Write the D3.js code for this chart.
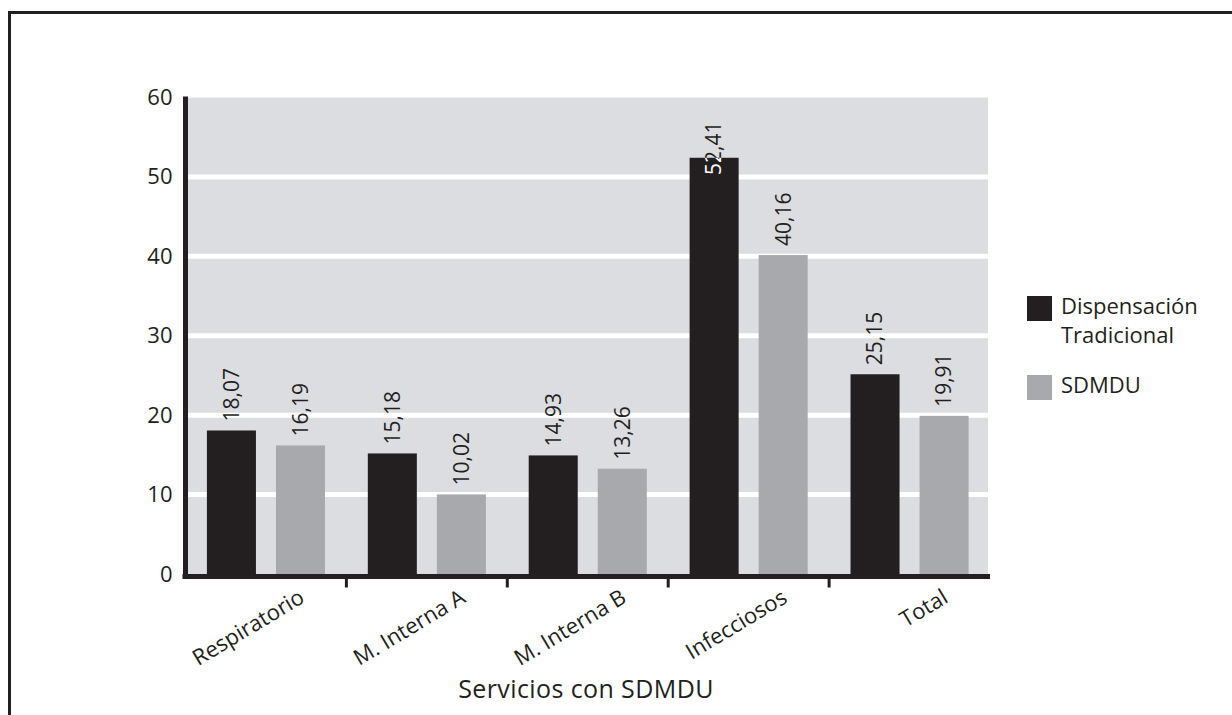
<!DOCTYPE html>
<html>
<head>
<meta charset="utf-8">
<script src="https://cdn.jsdelivr.net/npm/d3@7"></script>
<style>
  html, body { margin: 0; padding: 0; background: #fff; }
  svg { display: block; }
  text { font-family: "Open Sans", Lato, sans-serif; fill: #231f20; font-weight: 400; }
</style>
</head>
<body>
<svg id="chart" width="1232" height="715"></svg>
<script>
// Servicios hospitalarios y series comparadas
const categories = ["Respiratorio", "M. Interna A", "M. Interna B", "Infecciosos", "Total"];
const seriesNames = ["Dispensación Tradicional", "SDMDU"];
const tradicional = [18.07, 15.18, 14.93, 52.41, 25.15];
const sdmdu = [16.19, 10.02, 13.26, 40.16, 19.91];
const yTicks = [0, 10, 20, 30, 40, 50, 60];
const xTitle = "Servicios con SDMDU";

const colors = { "Dispensación Tradicional": "#231f20", "SDMDU": "#a7a9ac" };
const ink = "#231f20";
const fontFamily = "'Open Sans', Lato, sans-serif";
const textSize = 22;
const valueSize = 21;

const svg = d3.select("#chart");
const W = 1232, H = 715;

// Marco exterior (abierto por la derecha y por abajo)
svg.append("path")
  .attr("d", `M${W + 5},12.5 H9.5 V${H + 5}`)
  .attr("fill", "none").attr("stroke", ink).attr("stroke-width", 3);

const plot = { left: 185.5, right: 988, top: 97.5, bottom: 574 };

const x0 = d3.scaleBand().domain(categories).range([plot.left, plot.right + 2]).paddingInner(0).paddingOuter(0);
const x1 = d3.scaleBand().domain(seriesNames).range([0, x0.bandwidth()]).paddingInner(0.29).paddingOuter(0.31);
const y = d3.scaleLinear().domain([0, 60]).range([plot.bottom, plot.top]);

const rows = categories.map((c, i) => ({
  cat: c,
  vals: [
    { key: seriesNames[0], value: tradicional[i] },
    { key: seriesNames[1], value: sdmdu[i] }
  ]
}));

// Fondo del área de trazado
svg.append("rect")
  .attr("x", plot.left + 2).attr("y", y(60))
  .attr("width", plot.right - plot.left - 2).attr("height", y(0) - y(60))
  .attr("fill", "#dcdde0");

// Líneas de rejilla blancas
svg.append("g").selectAll("line")
  .data(yTicks.filter(t => t > 0 && t < 60))
  .join("line")
  .attr("x1", plot.left + 2).attr("x2", plot.right)
  .attr("y1", d => y(d)).attr("y2", d => y(d))
  .attr("stroke", "#fff").attr("stroke-width", 5);

// Barras
const defs = svg.append("defs");
const groups = svg.append("g").selectAll("g")
  .data(rows).join("g")
  .attr("transform", d => `translate(${x0(d.cat)},0)`);

groups.selectAll("rect")
  .data(d => d.vals)
  .join("rect")
  .attr("x", d => x1(d.key))
  .attr("y", d => y(d.value))
  .attr("width", x1.bandwidth())
  .attr("height", d => y(0) - y(d.value))
  .attr("fill", d => colors[d.key]);

// Etiquetas de valor, verticales sobre cada barra
const fmt = v => v.toFixed(2).replace(".", ",");
const labelLayer = svg.append("g");
rows.forEach((row, ci) => {
  row.vals.forEach((d, si) => {
    const cx = x0(row.cat) + x1(d.key) + x1.bandwidth() / 2;
    const t = labelLayer.append("text")
      .attr("font-size", valueSize)
      .attr("text-anchor", "start")
      .attr("dy", "0.35em")
      .text(fmt(d.value));
    const len = t.node().getComputedTextLength();
    let start = y(d.value) - 9;
    if (start - len < plot.top + 20) start = plot.top + 24 + len;
    t.attr("transform", `translate(${cx},${start}) rotate(-90)`);
    if (start > y(d.value)) {
      // parte de la etiqueta que cae dentro de la barra, en blanco
      const id = `clip-${ci}-${si}`;
      defs.append("clipPath").attr("id", id)
        .append("rect")
        .attr("x", x0(row.cat) + x1(d.key)).attr("y", y(d.value))
        .attr("width", x1.bandwidth()).attr("height", y(0) - y(d.value));
      labelLayer.append("g").attr("clip-path", `url(#${id})`)
        .append("text")
        .attr("font-size", valueSize)
        .attr("text-anchor", "start")
        .attr("dy", "0.35em")
        .style("fill", "#fff")
        .attr("transform", `translate(${cx},${start}) rotate(-90)`)
        .text(fmt(d.value));
    }
  });
});

// Eje Y
const yAxis = svg.append("g")
  .attr("transform", `translate(${plot.left},0)`)
  .call(d3.axisLeft(y).tickValues(yTicks).tickSize(0).tickPadding(13).tickFormat(d3.format("d")));
yAxis.select(".domain").attr("stroke", ink).attr("stroke-width", 5)
  .attr("d", `M0,${y(60) - 1}V${y(0) + 3}`);
yAxis.selectAll("text").attr("font-size", textSize).style("fill", ink)
  .style("font-family", fontFamily);

// Eje X con marcas entre categorías
const xAxisY = plot.bottom + 0.5;
svg.append("line")
  .attr("x1", plot.left - 3).attr("x2", plot.right + 2)
  .attr("y1", xAxisY + 2).attr("y2", xAxisY + 2)
  .attr("stroke", ink).attr("stroke-width", 5);
svg.append("g").selectAll("line")
  .data(categories.slice(1))
  .join("line")
  .attr("x1", d => x0(d)).attr("x2", d => x0(d))
  .attr("y1", xAxisY + 4).attr("y2", xAxisY + 13)
  .attr("stroke", ink).attr("stroke-width", 3);

// Nombres de categoría inclinados
svg.append("g").selectAll("text")
  .data(categories)
  .join("text")
  .attr("font-size", textSize)
  .attr("text-anchor", "end")
  .attr("transform", d => `translate(${x0(d) + x0.bandwidth() / 2 + 40},${xAxisY + 27}) rotate(-31)`)
  .text(d => d);

// Título del eje X
svg.append("text")
  .attr("x", 586)
  .attr("y", 698)
  .attr("font-size", 25)
  .attr("letter-spacing", 0.4)
  .attr("text-anchor", "middle")
  .text(xTitle);

// Leyenda
const legend = svg.append("g").attr("transform", "translate(1027,0)");
const legendItems = [
  { key: seriesNames[0], y: 296, lines: ["Dispensación", "Tradicional"] },
  { key: seriesNames[1], y: 375, lines: ["SDMDU"] }
];
legendItems.forEach(item => {
  legend.append("rect")
    .attr("x", 0).attr("y", item.y)
    .attr("width", 25).attr("height", 25)
    .attr("fill", colors[item.key]);
  const t = legend.append("text")
    .attr("x", 34).attr("y", item.y + 18)
    .attr("font-size", textSize);
  item.lines.forEach((ln, i) => {
    t.append("tspan").attr("x", 34).attr("dy", i === 0 ? 0 : 29).text(ln);
  });
});
</script>
</body>
</html>
